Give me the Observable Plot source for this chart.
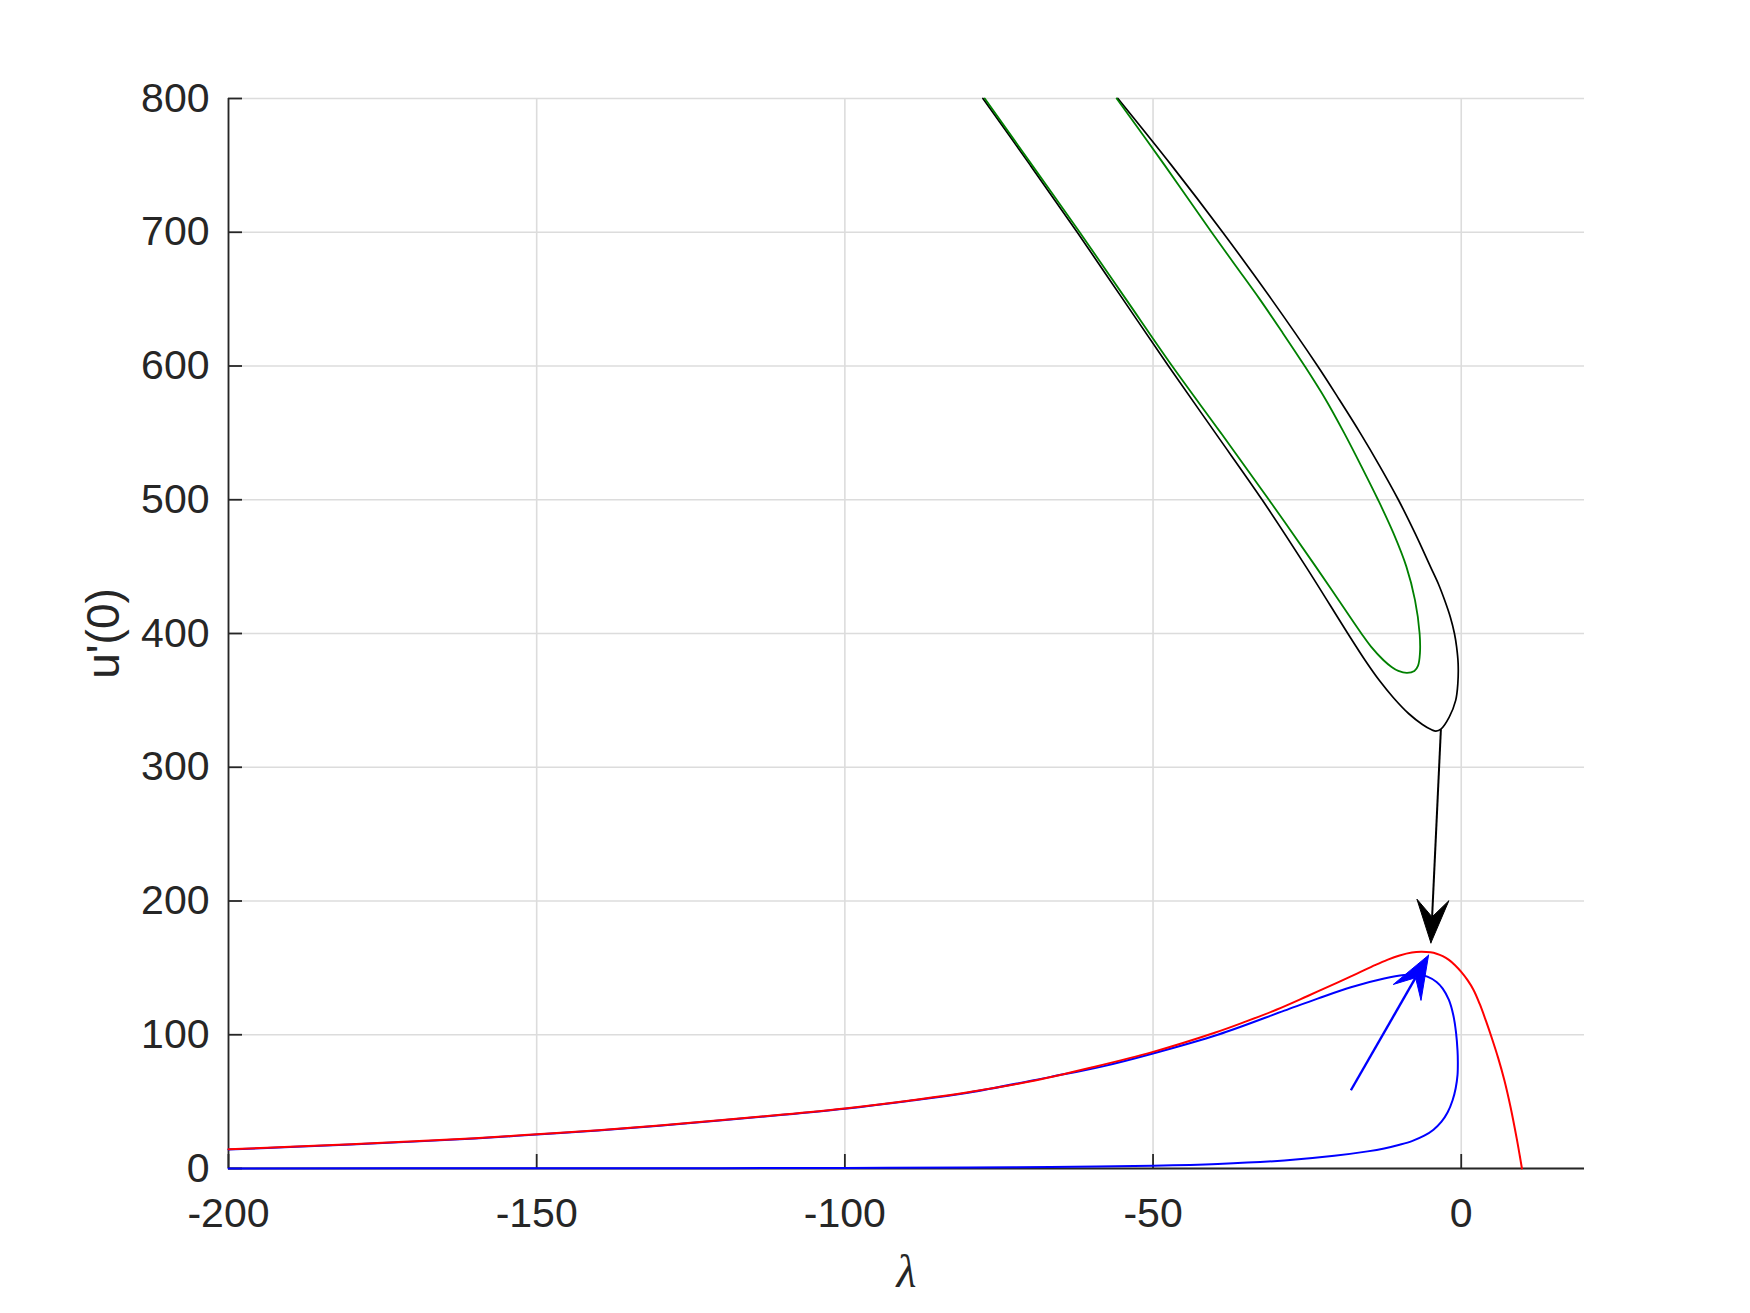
<!DOCTYPE html>
<html>
<head>
<meta charset="utf-8">
<script src="https://cdn.jsdelivr.net/npm/d3@7"></script>
<script src="https://cdn.jsdelivr.net/npm/@observablehq/plot@0.6"></script>
<style>
  html, body { margin: 0; padding: 0; background: #fff; }
</style>
</head>
<body>
<div id="chart"></div>
<script>
// ---------- data (λ, u'(0)) ----------
const xTicks = [-200, -150, -100, -50, 0];
const yTicks = [0, 100, 200, 300, 400, 500, 600, 700, 800];
const xDomain = [-200, 20];
const yDomain = [0, 800];

const redCurve = [
  [-200,14.4],[-190,16.2],[-175,19.2],[-160,22.6],[-150,25.6],[-140,28.6],[-125,34.2],
  [-110,40.3],[-100,44.9],[-90,50.5],[-80,57],[-70,65],[-60,75.5],[-50,87.2],[-40,101.5],
  [-35,109.8],[-30,118.7],[-25,128.8],[-20,139.2],[-17,145.5],[-14,152],[-12,156],
  [-10,159.3],[-8,161.5],[-6.5,162],[-5,161.6],[-4,160.6],[-3,158.8],[-2,156],[-1,152],
  [0,147],[1,141],[2,133.5],[3,123],[4,110.5],[5,97],[6,82.5],[7,66],[8,46],[9,22.5],
  [9.5,9.5],[9.85,0]
];

const blueCurve = [
  [-200,0.05],[-150,0.15],[-120,0.28],[-100,0.45],[-80,0.75],[-66.6,1.1],[-50,2.1],
  [-39.5,3.4],[-28.7,6],[-20.6,9.5],[-15.2,12.8],[-12.5,15],[-10,17.8],[-8,20.5],[-6,24.5],
  [-4.5,29],[-3.2,35],[-2.2,42],[-1.4,51],[-0.9,60],[-0.6,70],[-0.55,80],[-0.6,88],
  [-0.85,102],[-1.3,115],[-2,126],[-3,134.5],[-4,139.5],[-5.5,143.5],[-7,145],[-9.25,144.6],
  [-12.5,142],[-17.9,135.5],[-23.3,127],[-28.7,118],[-39.5,100],[-50,86],[-58.5,76],
  [-66.6,68.5],[-80,56.7],[-90,50.3],[-100,44.7],[-110,40.1],[-125,34],[-140,28.4],
  [-150,25.4],[-160,22.4],[-175,19],[-190,16],[-200,14.2]
];

const blackCurve = [
  [-77.6,800],[-69.9,750],[-62.3,700],[-54.9,650],[-47.5,600],[-39.9,550],[-32.3,500],
  [-25.2,450],[-18.4,400],[-15.6,380],[-13.3,365],[-11.0,352],[-8.5,340],[-6.3,332],
  [-4.8,328],[-4.1,327],[-3.3,328.5],[-1.95,337.5],[-0.9,350],[-0.55,362.6],[-0.5,377.5],
  [-0.75,390],[-1.1,400],[-1.75,412],[-2.7,425],[-3.7,437],[-5.0,450],[-7.5,475],
  [-10.2,500],[-13.2,525],[-16.4,550],[-19.8,575],[-23.3,600],[-30.8,650],[-38.7,700],
  [-47.0,750],[-55.7,800]
];

const greenCurve = [
  [-77.3,800],[-69.6,750],[-61.9,700],[-54.4,650],[-46.9,600],[-39.0,550],[-31.2,500],
  [-23.6,450],[-19.9,425],[-16.2,400],[-14.6,390],[-12.6,380],[-11.3,375],[-10.2,372],
  [-8.8,370.5],[-7.6,372],[-7.0,376],[-6.7,385],[-6.75,400],[-7.5,425],[-8.9,450],
  [-11.0,475],[-13.5,500],[-16.2,525],[-19.0,550],[-22.0,575],[-25.4,600],[-29.0,625],
  [-32.7,650],[-36.6,675],[-40.5,700],[-48.1,750],[-55.9,800]
];

// annotation arrows: [x1, y1, x2 (tip), y2 (tip)]
const blackArrow = [-3.3, 328.4, -4.92, 168.7];
const blueArrow = [-17.9, 58.5, -5.3, 159.5];

const xLabel = "λ";
const yLabel = "u'(0)";

// ---------- layout ----------
const W = 1750, H = 1313, ML = 228, MR = 166, MT = 98, MB = 145;
const kx = (W - ML - MR) / (xDomain[1] - xDomain[0]); // px per unit
const ky = (H - MT - MB) / (yDomain[1] - yDomain[0]);
const TICK = 14;
const ink = "#262626";
const font = "Liberation Sans, Arial, Helvetica, sans-serif";

function toObj(arr) { return arr.map(([x, y]) => ({x, y})); }

// arrow head polygon (computed in pixel space, returned in data space)
function arrowParts(a, L = 43, HW = 16, N = 26) {
  const [x1, y1, x2, y2] = a;
  const px = (x2 - x1) * kx, py = -(y2 - y1) * ky;
  const len = Math.hypot(px, py);
  const ux = px / len, uy = py / len;
  const nx = -uy, ny = ux;
  const pt = (ox, oy) => ({x: x2 + ox / kx, y: y2 - oy / ky});
  const tip = pt(0, 0);
  const b1 = pt(-L * ux + HW * nx, -L * uy + HW * ny);
  const notch = pt(-N * ux, -N * uy);
  const b2 = pt(-L * ux - HW * nx, -L * uy - HW * ny);
  return {
    shaft: [{x1, y1, x2: notch.x, y2: notch.y}],
    head: [tip, b1, notch, b2, tip]
  };
}
const bA = arrowParts(blackArrow);
const uA = arrowParts(blueArrow);

const fmt = d => String(d);

const plot = Plot.plot({
  width: W,
  height: H,
  marginLeft: ML,
  marginRight: MR,
  marginTop: MT,
  marginBottom: MB,
  x: {domain: xDomain, axis: null},
  y: {domain: yDomain, axis: null},
  style: {background: "white", fontFamily: font, overflow: "visible"},
  marks: [
    Plot.ruleX(xTicks, {stroke: "#dcdcdc", strokeWidth: 1.6}),
    Plot.ruleY(yTicks, {stroke: "#dcdcdc", strokeWidth: 1.6}),
    Plot.ruleY([yDomain[0]], {stroke: ink, strokeWidth: 1.8}),
    Plot.ruleX([xDomain[0]], {stroke: ink, strokeWidth: 1.8}),
    Plot.ruleX(xTicks, {x: d => d, y1: yDomain[0], y2: yDomain[0] + TICK / ky, stroke: ink, strokeWidth: 1.8}),
    Plot.ruleY(yTicks, {y: d => d, x1: xDomain[0], x2: xDomain[0] + TICK / kx, stroke: ink, strokeWidth: 1.8}),
    Plot.line(toObj(blackCurve), {x: "x", y: "y", stroke: "black", strokeWidth: 1.7, curve: "catmull-rom"}),
    Plot.line(toObj(greenCurve), {x: "x", y: "y", stroke: "#008000", strokeWidth: 1.8, curve: "catmull-rom"}),
    Plot.line(toObj(blueCurve), {x: "x", y: "y", stroke: "#0000ff", strokeWidth: 2, curve: "catmull-rom"}),
    Plot.line(toObj(redCurve), {x: "x", y: "y", stroke: "#ff0000", strokeWidth: 2, curve: "catmull-rom"}),
    Plot.link(bA.shaft, {x1: "x1", y1: "y1", x2: "x2", y2: "y2", stroke: "black", strokeWidth: 2}),
    Plot.line(bA.head, {x: "x", y: "y", fill: "black", stroke: "black", strokeWidth: 1, curve: "linear"}),
    Plot.link(uA.shaft, {x1: "x1", y1: "y1", x2: "x2", y2: "y2", stroke: "#0000ff", strokeWidth: 2.4}),
    Plot.line(uA.head, {x: "x", y: "y", fill: "#0000ff", stroke: "#0000ff", strokeWidth: 1, curve: "linear"}),
    Plot.text(xTicks, {x: d => d, y: yDomain[0], text: fmt, dy: 45, fontSize: 41, fill: ink, fontFamily: font}),
    Plot.text(yTicks, {x: xDomain[0], y: d => d, text: fmt, dx: -19, textAnchor: "end", fontSize: 41, fill: ink, fontFamily: font}),
    Plot.text([xLabel], {frameAnchor: "bottom", text: d => d, dy: 118, fontSize: 46, fontStyle: "italic", fill: ink, fontFamily: "Liberation Serif, DejaVu Serif, serif"}),
    Plot.text([yLabel], {frameAnchor: "left", text: d => d, dx: -124, rotate: -90, textAnchor: "middle", lineAnchor: "middle", fontSize: 46, fill: ink, fontFamily: font})
  ]
});
document.getElementById("chart").appendChild(plot);
</script>
</body>
</html>
